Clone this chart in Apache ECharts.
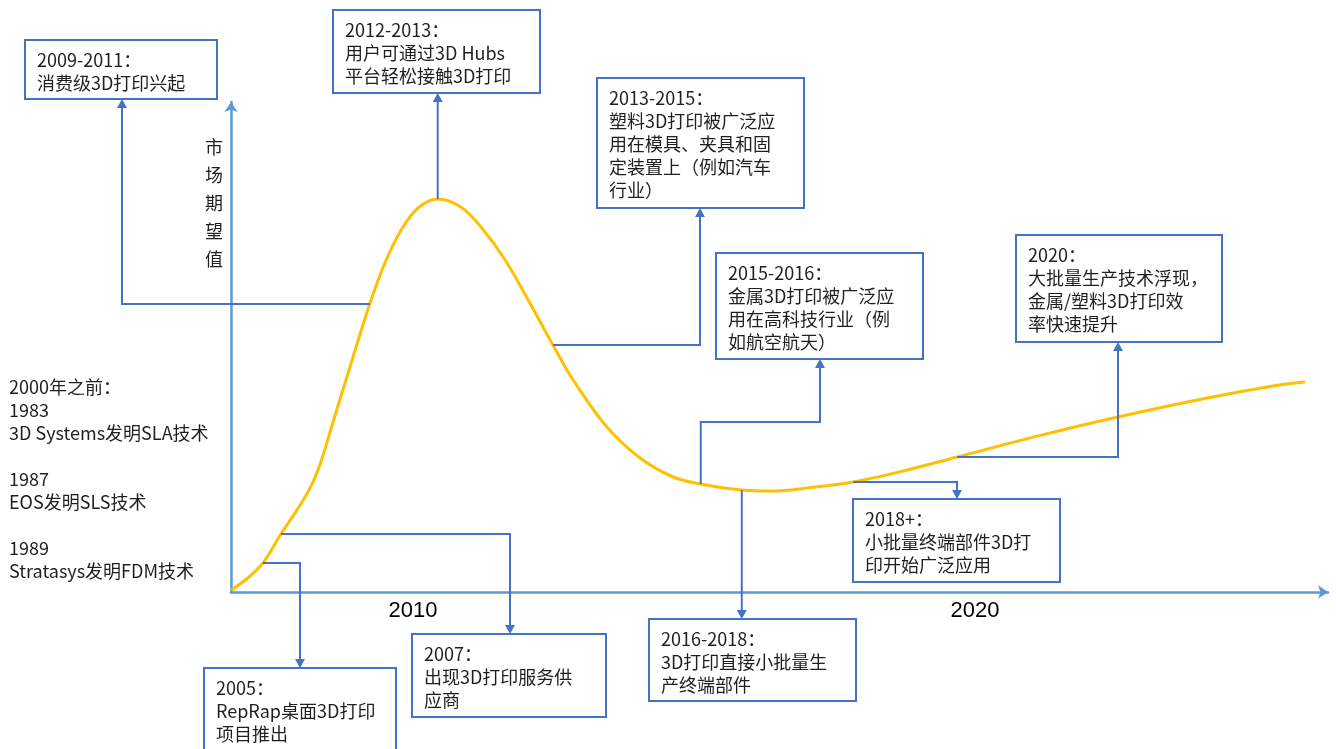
<!DOCTYPE html>
<html>
<head>
<meta charset="utf-8">
<title>3D打印技术成熟度曲线</title>
<script src="https://cdn.jsdelivr.net/npm/echarts@6.0.0/dist/echarts.min.js"></script>
<style>
  html, body { margin: 0; padding: 0; background: #ffffff; }
  #chart { width: 1336px; height: 749px; }
</style>
</head>
<body>
<div id="chart"></div>
<script>
// ---- data -------------------------------------------------------------
// expectation curve: year and market expectation (relative units)
const curveYears = [
  2006.77, 2007.06, 2007.33, 2007.65, 2008.08, 2008.31, 2008.61, 2008.90,
  2009.23, 2009.50, 2009.79, 2010.09, 2010.44, 2010.85, 2011.21, 2011.64,
  2012.05, 2012.49, 2012.85, 2013.45, 2014.04, 2014.63, 2015.12, 2015.85,
  2016.41, 2017.01, 2017.83, 2018.79, 2019.68, 2021.16, 2022.54, 2024.13,
  2025.30, 2025.87
];
const curveValues = [
  0.5, 3.5, 7.25, 14.5, 23.75, 30.5, 44, 57.25,
  72, 82.25, 90.5, 96, 98.25, 96.25, 91.25, 83,
  73, 61.75, 53, 41.25, 33.5, 28.75, 27, 25.5,
  25.25, 26, 27.5, 30.5, 33.75, 39.15, 43.75, 48.5,
  51.5, 52.5
];
const axisYears = [2010, 2020];
const axisTitle = '市场期望值';

// milestones before the curve begins
const earlyMilestones = [
  '2000年之前：', '1983', '3D Systems发明SLA技术', '',
  '1987', 'EOS发明SLS技术', '',
  '1989', 'Stratasys发明FDM技术'
];

// milestones attached to points on the curve
const milestoneTitles = [
  '2009-2011：', '2012-2013：', '2013-2015：', '2015-2016：', '2016-2018：',
  '2018+：', '2020：', '2007：', '2005：'
];
const milestoneNotes = [
  ['消费级3D打印兴起'],
  ['用户可通过3D Hubs', '平台轻松接触3D打印'],
  ['塑料3D打印被广泛应', '用在模具、夹具和固', '定装置上（例如汽车', '行业）'],
  ['金属3D打印被广泛应', '用在高科技行业（例', '如航空航天）'],
  ['3D打印直接小批量生', '产终端部件'],
  ['小批量终端部件3D打', '印开始广泛应用'],
  ['大批量生产技术浮现，', '金属/塑料3D打印效', '率快速提升'],
  ['出现3D打印服务供', '应商'],
  ['RepRap桌面3D打印', '项目推出']
];
// index of the curve point each milestone is attached to
const milestoneCurvePoint = [8, 12, 17, 22, 23, 26, 28, 3, 2];

// ---- layout of the callout boxes (pixels) ----------------------------
// box: [left, top, width, height]; route: elbow segments from the curve point,
// 'h' moves horizontally to x, 'v' moves vertically to y; last segment ends in an arrow
const calloutLayout = [
  { box: [25, 40, 192, 59],   route: [['h', 122], ['v', 99]] },
  { box: [333, 10, 207, 83],  route: [['v', 93]] },
  { box: [597, 78, 207, 130], route: [['h', 700], ['v', 208]] },
  { box: [716, 253, 207, 106], route: [['v', 422], ['h', 820], ['v', 359]] },
  { box: [649, 619, 207, 82], route: [['v', 619]] },
  { box: [853, 499, 207, 83], route: [['h', 957], ['v', 499]] },
  { box: [1016, 235, 206, 107], route: [['h', 1118], ['v', 342]] },
  { box: [412, 634, 194, 83], route: [['h', 510], ['v', 634]] },
  { box: [204, 668, 192, 84], route: [['h', 300], ['v', 668]] }
];

const FONT = '"Noto Sans CJK SC", "Noto Sans", sans-serif';
const AXIS_BLUE = '#5B9BD5';
const LINK_BLUE = '#4472C4';
const CURVE_GOLD = '#FFC000';
const TEXT_DARK = '#1f1f1f';

const chart = echarts.init(document.getElementById('chart'), null, { renderer: 'canvas' });

chart.setOption({
  animation: false,
  backgroundColor: '#ffffff',
  grid: { left: 231, right: 8, top: 102, bottom: 157 },
  xAxis: {
    type: 'value',
    min: 2006.762,
    max: 2026.28,
    splitLine: { show: false },
    axisTick: { show: false },
    axisLine: {
      show: true,
      onZero: false,
      symbol: ['none', 'arrow'],
      symbolSize: [10, 10],
      lineStyle: { color: AXIS_BLUE, width: 2.5 }
    },
    axisLabel: {
      customValues: axisYears,
      formatter: v => String(v),
      fontSize: 22,
      fontFamily: '"Liberation Sans", Arial, sans-serif',
      color: '#000000',
      margin: 8
    }
  },
  yAxis: {
    type: 'value',
    min: 0,
    max: 122.5,
    splitLine: { show: false },
    axisTick: { show: false },
    axisLabel: { show: false },
    axisLine: {
      show: true,
      onZero: false,
      symbol: ['none', 'arrow'],
      symbolSize: [10, 10],
      lineStyle: { color: AXIS_BLUE, width: 2.5 }
    }
  },
  series: [{
    type: 'line',
    data: curveYears.map((y, i) => [y, curveValues[i]]),
    smooth: 0.35,
    showSymbol: false,
    lineStyle: { color: CURVE_GOLD, width: 3 },
    z: 3
  }]
});

// ---- callouts, side notes and axis title -----------------------------
function arrowHead(tip, from) {
  // filled triangle pointing from 'from' to 'tip'
  const len = 9, half = 5;
  const dx = tip[0] - from[0], dy = tip[1] - from[1];
  const d = Math.hypot(dx, dy) || 1;
  const ux = dx / d, uy = dy / d;
  const bx = tip[0] - ux * len, by = tip[1] - uy * len;
  return {
    base: [bx, by],
    points: [tip, [bx - uy * half, by + ux * half], [bx + uy * half, by - ux * half]]
  };
}

const graphics = [];

milestoneTitles.forEach((title, i) => {
  const idx = milestoneCurvePoint[i];
  const start = chart.convertToPixel({ gridIndex: 0 }, [curveYears[idx], curveValues[idx]]);
  const layout = calloutLayout[i];
  const pts = [start];
  let cur = start.slice();
  layout.route.forEach(([dir, val]) => {
    cur = dir === 'h' ? [val, cur[1]] : [cur[0], val];
    pts.push(cur);
  });
  const tip = pts[pts.length - 1];
  const prev = pts[pts.length - 2];
  const head = arrowHead(tip, prev);
  const linePts = pts.slice(0, -1).concat([head.base]);

  graphics.push({
    type: 'polyline',
    z: 20,
    shape: { points: linePts },
    style: { stroke: LINK_BLUE, lineWidth: 2, fill: null }
  });
  graphics.push({
    type: 'polygon',
    z: 20,
    shape: { points: head.points },
    style: { fill: LINK_BLUE, stroke: null }
  });

  const [bx, by, bw, bh] = layout.box;
  graphics.push({
    type: 'rect',
    z: 30,
    shape: { x: bx, y: by, width: bw, height: bh },
    style: { fill: '#ffffff', stroke: LINK_BLUE, lineWidth: 2 }
  });
  graphics.push({
    type: 'text',
    z: 31,
    style: {
      text: [title].concat(milestoneNotes[i]).join('\n'),
      x: bx + 12,
      y: by + 8.5,
      fill: TEXT_DARK,
      fontSize: 18,
      fontFamily: FONT,
      lineHeight: 23,
      align: 'left',
      verticalAlign: 'top'
    }
  });
});

graphics.push({
  type: 'text',
  z: 31,
  style: {
    text: earlyMilestones.join('\n'),
    x: 9,
    y: 375.5,
    fill: TEXT_DARK,
    fontSize: 18,
    fontFamily: FONT,
    lineHeight: 23,
    align: 'left',
    verticalAlign: 'top'
  }
});

graphics.push({
  type: 'text',
  z: 31,
  style: {
    text: axisTitle.split('').join('\n'),
    x: 214,
    y: 133,
    fill: TEXT_DARK,
    fontSize: 18,
    fontFamily: FONT,
    lineHeight: 28,
    align: 'center',
    verticalAlign: 'top'
  }
});

chart.setOption({ graphic: graphics });
</script>
</body>
</html>
